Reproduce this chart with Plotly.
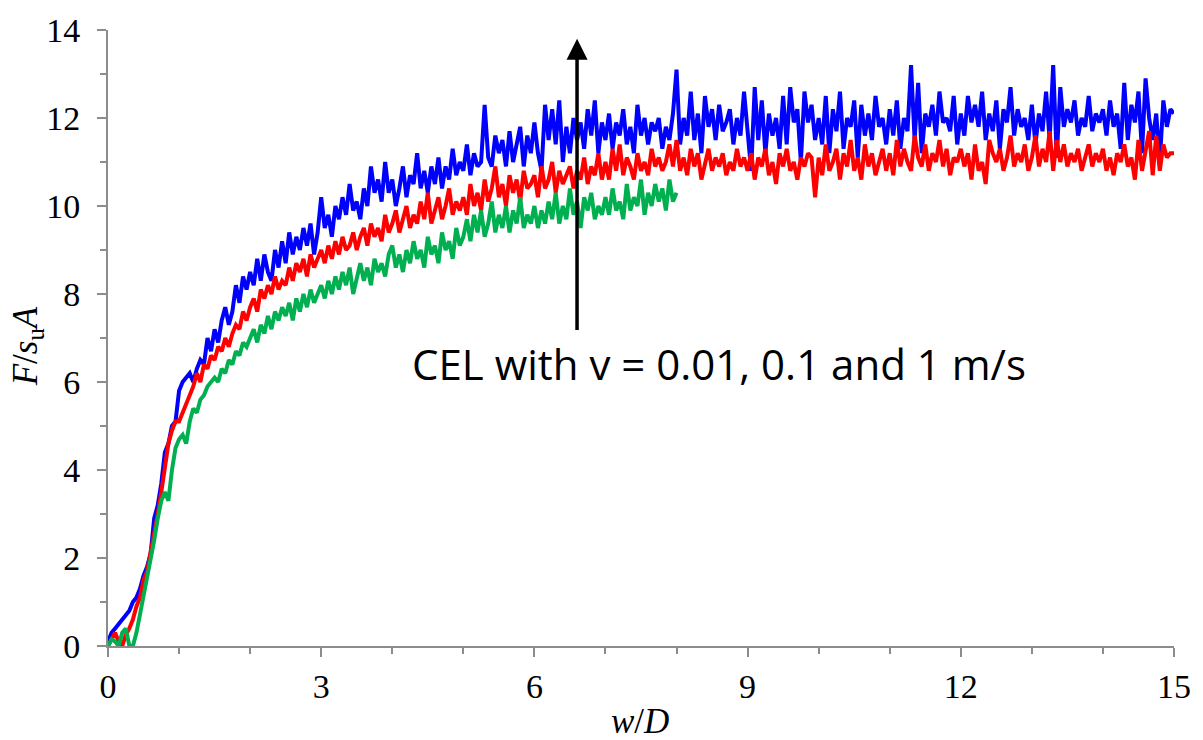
import numpy as np
import plotly.graph_objects as go

# x spacing of the digitised samples (w/D)
step = 0.05

blue_vals = [
    0.1,0.3,0.4,0.5,0.6,0.7,0.8,1.0,1.1,1.3,1.6,1.8,2.1,2.9,3.2,3.7,4.4,4.6,5.0,5.1,
    5.8,6.0,6.1,6.2,6.0,6.3,6.5,6.4,7.0,6.7,7.2,6.9,7.4,7.7,7.3,7.6,8.2,7.8,8.4,8.1,
    8.5,8.2,8.8,8.3,8.9,8.5,8.3,9.0,8.6,9.2,8.7,9.4,8.9,9.3,9.0,9.5,9.1,9.6,8.9,9.4,
    10.2,9.5,9.8,9.3,10.0,9.7,10.2,9.8,10.5,9.9,10.1,9.7,10.4,10.0,10.9,10.3,10.6,10.1,11.0,10.3,
    10.6,10.0,10.4,10.9,10.2,10.7,10.5,11.2,10.4,10.8,10.3,10.9,10.5,11.1,10.4,10.9,10.6,11.3,10.7,11.0,
    10.8,11.4,10.7,11.2,10.9,11.0,12.3,11.1,10.9,11.6,11.2,11.5,10.9,11.7,11.0,11.4,11.8,10.9,11.6,11.2,
    11.9,11.2,10.8,12.3,11.5,12.2,11.4,12.4,11.0,11.8,11.2,12.0,11.5,11.9,11.3,12.2,11.6,12.4,11.2,11.9,
    11.5,12.1,11.3,11.9,11.6,12.2,11.4,11.8,11.2,12.3,11.6,12.0,11.4,11.9,11.7,12.0,11.3,11.8,11.5,12.1,
    13.1,11.4,12.0,11.6,12.6,11.5,12.1,11.2,12.5,11.8,12.2,11.5,12.3,11.7,11.9,12.2,11.4,12.0,11.6,12.6,
    11.8,10.8,12.7,11.5,12.4,11.2,12.1,11.6,12.0,11.3,12.5,11.4,12.7,11.9,12.2,11.0,12.6,11.9,12.3,11.5,
    12.0,11.4,12.5,11.2,12.2,11.7,12.6,11.3,12.0,11.8,12.4,11.1,12.3,11.6,12.1,11.5,12.5,11.8,12.0,11.4,
    12.2,11.6,12.4,11.3,12.0,11.7,13.2,11.5,12.8,11.2,12.1,11.8,12.3,11.6,12.6,11.9,12.0,11.7,12.5,11.4,
    12.1,11.6,12.5,11.9,12.3,11.8,12.6,11.5,12.1,11.7,12.4,11.3,12.2,11.9,12.7,11.6,12.2,11.8,12.0,11.5,
    12.3,11.4,12.1,11.7,12.6,11.5,13.2,11.1,12.7,11.8,12.2,11.9,12.4,11.6,12.0,11.8,12.5,11.7,12.1,11.9,
    12.2,11.6,12.4,11.8,12.1,11.3,12.8,11.5,12.3,11.9,12.6,11.2,12.9,12.0,11.5,12.1,11.0,12.4,11.8,12.2,
    12.1,
]

red_vals = [
    0.0,0.15,0.3,0.1,0.0,0.25,0.4,0.6,0.9,1.1,1.5,1.7,2.1,2.6,3.0,3.5,4.1,4.6,4.9,5.1,
    5.1,5.3,5.5,5.7,5.9,6.2,6.0,6.4,6.3,6.6,6.5,6.8,6.7,7.0,6.8,7.1,7.3,7.2,7.6,7.4,
    7.7,7.9,7.6,8.1,7.9,8.2,8.0,8.4,8.1,8.3,8.2,8.6,8.3,8.7,8.5,8.8,8.4,8.9,8.6,8.8,
    9.0,8.7,9.1,8.8,9.2,8.9,9.3,9.0,9.1,9.4,9.0,9.3,9.5,9.1,9.6,9.3,9.5,9.2,9.8,9.4,
    9.6,9.9,9.4,9.7,10.0,9.5,9.8,9.6,10.1,9.7,10.3,9.6,9.9,10.2,9.7,10.0,10.4,9.8,10.1,9.9,
    10.2,9.8,10.5,10.0,10.3,9.9,10.6,10.1,10.4,10.9,10.2,10.5,10.0,10.7,10.3,10.6,10.1,10.8,10.4,10.5,
    10.7,10.2,10.9,10.4,10.6,11.0,10.3,10.8,10.5,10.7,10.9,10.4,10.8,10.6,11.1,10.5,10.9,10.7,11.2,10.6,
    11.0,10.6,11.3,10.8,11.4,10.7,11.1,10.9,10.6,11.2,10.8,11.0,10.7,11.3,10.9,11.1,10.8,11.0,11.4,10.9,
    11.5,10.8,11.1,10.7,11.3,10.9,11.2,10.6,11.0,11.3,10.8,11.1,10.9,11.2,10.7,11.0,10.8,11.3,10.9,11.1,
    10.8,11.2,10.6,11.1,10.9,11.3,10.7,11.0,10.5,11.2,10.9,11.3,10.8,11.0,10.6,11.1,10.9,11.2,11.1,10.2,
    11.1,10.7,11.4,10.8,11.0,11.3,10.6,11.2,10.9,11.5,10.8,11.1,10.6,11.4,10.9,11.2,10.7,11.0,11.3,10.8,
    11.2,10.7,11.5,10.9,11.3,11.0,10.8,11.6,11.1,10.9,11.4,10.8,11.2,11.0,11.5,10.9,11.3,10.7,11.1,11.0,
    11.3,10.9,11.2,10.6,11.4,10.8,11.0,10.5,11.5,11.2,11.0,11.3,10.8,11.1,11.6,10.9,11.2,11.0,11.4,10.8,
    11.1,11.6,10.9,11.3,11.0,11.7,10.8,11.5,11.0,11.4,10.9,11.2,11.0,11.3,10.8,11.1,11.4,10.9,11.2,11.0,
    11.3,10.8,11.1,10.7,11.2,11.0,11.4,10.9,11.1,10.6,11.5,10.8,11.2,11.7,10.7,11.6,10.8,11.4,11.1,11.2,
    11.2,
]

green_vals = [
    0.0,0.15,0.1,0.0,0.3,0.4,0.0,0.0,0.3,0.7,1.1,1.5,2.0,2.4,2.9,3.3,3.5,3.3,4.0,4.5,
    4.7,4.8,4.6,5.1,5.4,5.3,5.6,5.7,5.9,6.0,6.1,6.0,6.3,6.2,6.5,6.4,6.7,6.6,6.9,6.8,
    7.0,7.2,6.9,7.3,7.1,7.5,7.2,7.6,7.4,7.7,7.5,7.8,7.4,7.9,7.6,8.0,7.7,8.1,7.8,8.0,
    8.2,7.9,8.3,8.0,8.4,8.1,8.5,8.2,8.6,8.0,8.4,8.7,8.3,8.6,8.2,8.8,8.5,8.7,8.4,8.9,
    9.1,8.6,8.9,8.5,9.0,8.7,9.2,8.8,9.0,8.6,9.3,8.9,9.1,8.7,9.4,9.0,9.2,8.8,9.5,9.1,
    9.3,9.7,9.2,9.8,9.4,9.9,9.3,9.6,10.1,9.4,9.8,9.5,10.0,9.4,9.9,9.6,10.2,9.5,9.8,9.6,
    10.0,9.5,9.9,9.6,10.1,9.7,10.3,9.6,10.0,9.7,10.4,9.8,10.1,9.5,10.2,9.9,10.3,9.7,10.0,9.8,
    10.2,9.8,10.4,9.9,10.1,9.7,10.5,9.9,10.2,10.0,10.6,9.8,10.3,10.0,10.5,10.1,10.4,9.9,10.6,10.1,
    10.3,
]

x_blue = np.round(np.arange(len(blue_vals)) * step, 3)
x_red = np.round(np.arange(len(red_vals)) * step, 3)
x_green = np.round(np.arange(len(green_vals)) * step, 3)

x_ticks = [0, 3, 6, 9, 12, 15]
y_ticks = [0, 2, 4, 6, 8, 10, 12, 14]

annot_text = "CEL with v = 0.01, 0.1 and 1 m/s"
arrow_x = 6.6
arrow_y0 = 7.15
arrow_y1 = 13.8

fig = go.Figure()
fig.add_trace(go.Scatter(x=x_blue, y=blue_vals, mode="lines",
                         line=dict(color="#0000FF", width=4), name="v = 1 m/s"))
fig.add_trace(go.Scatter(x=x_red, y=red_vals, mode="lines",
                         line=dict(color="#FF0000", width=4), name="v = 0.1 m/s"))
fig.add_trace(go.Scatter(x=x_green, y=green_vals, mode="lines",
                         line=dict(color="#00B050", width=4), name="v = 0.01 m/s"))

axis_grey = "#8c8c8c"
tickfont = dict(family="Liberation Serif", size=34, color="black")

fig.update_layout(
    width=1203, height=740,
    margin=dict(l=108, r=23, t=22, b=94),
    plot_bgcolor="white", paper_bgcolor="white",
    showlegend=False,
    xaxis=dict(range=[0, 15], tickvals=x_ticks, showgrid=False, zeroline=False,
               showline=True, linecolor=axis_grey, linewidth=2,
               ticks="outside", ticklen=9, tickwidth=2, tickcolor=axis_grey,
               minor=dict(dtick=1, tick0=0, ticks="outside", ticklen=6,
                          tickwidth=2, tickcolor=axis_grey, showgrid=False),
               tickfont=tickfont),
    yaxis=dict(range=[0, 14], tickvals=y_ticks, showgrid=False, zeroline=False,
               showline=True, linecolor=axis_grey, linewidth=2,
               ticks="outside", ticklen=9, tickwidth=2, tickcolor=axis_grey,
               minor=dict(dtick=1, tick0=0, ticks="outside", ticklen=6,
                          tickwidth=2, tickcolor=axis_grey, showgrid=False),
               tickfont=tickfont, ticklabelstandoff=10),
)

# arrow
fig.add_annotation(x=arrow_x, y=arrow_y1, ax=arrow_x, ay=arrow_y0,
                   xref="x", yref="y", axref="x", ayref="y",
                   text="", showarrow=True, arrowhead=2, arrowsize=1.2,
                   arrowwidth=3.5, arrowcolor="black", standoff=0, startstandoff=0)
# annotation text
fig.add_annotation(x=(722 - 108) / 1072, y=(646 - 360) / 624, xref="paper", yref="paper",
                   text=annot_text, showarrow=False, xanchor="center", yanchor="middle",
                   font=dict(family="Open Sans", size=42, color="black"))
# axis titles
fig.add_annotation(x=(643 - 108) / 1072, y=-(722 - 646) / 624, xref="paper", yref="paper",
                   text="<i>w</i>/<i>D</i>", showarrow=False, xanchor="center", yanchor="middle",
                   font=dict(family="Liberation Serif", size=35, color="black"))
fig.add_annotation(x=-(108 - 27) / 1072, y=(646 - 342) / 624, xref="paper", yref="paper",
                   text="<i>F</i>/<i>s</i><sub>u</sub><i>A</i>", showarrow=False, textangle=-90,
                   xanchor="center", yanchor="middle",
                   font=dict(family="Liberation Serif", size=35, color="black"))

fig.write_html("out.html")
